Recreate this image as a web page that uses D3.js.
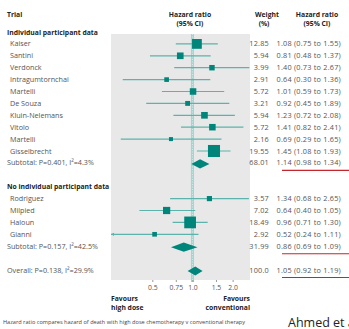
<!DOCTYPE html>
<html><head><meta charset="utf-8">
<script src="https://cdn.jsdelivr.net/npm/d3@7"></script>
<style>
html,body{margin:0;padding:0;background:#fff;overflow:hidden}
svg{display:block}
text{font-family:"Open Sans",sans-serif}
</style></head>
<body>
<svg id="c" width="349" height="329"></svg>
<script>
// ---- data ----
const group1Trials = ["Kaiser","Santini","Verdonck","Intragumtornchai","Martelli","De Souza","Kluin-Nelemans","Vitolo","Martelli","Gisselbrecht"];
const group1Weight = [12.85,5.94,3.99,2.91,5.72,3.21,5.94,5.72,2.16,19.55];
const group1HR     = [1.08,0.81,1.40,0.64,1.01,0.92,1.23,1.41,0.69,1.45];
const group1Lo     = [0.75,0.48,0.73,0.30,0.59,0.45,0.72,0.82,0.29,1.08];
const group1Hi     = [1.55,1.37,2.67,1.36,1.73,1.89,2.08,2.41,1.65,1.93];
const group2Trials = ["Rodriguez","Milpied","Haloun","Gianni"];
const group2Weight = [3.57,7.02,18.49,2.92];
const group2HR     = [1.34,0.64,0.96,0.52];
const group2Lo     = [0.68,0.40,0.71,0.24];
const group2Hi     = [2.65,1.05,1.30,1.11];
const subtotalLabels = ["Subtotal: P=0.401, I\u00b2=4.3%","Subtotal: P=0.157, I\u00b2=42.5%","Overall: P=0.138, I\u00b2=29.9%"];
const subtotalWeight = ["68.01","31.99","100.0"];
const subtotalHR     = [1.14,0.86,1.05];
const subtotalLo     = [0.98,0.69,0.92];
const subtotalHi     = [1.34,1.09,1.19];
const groupHeaders = ["Individual participant data","No individual participant data"];
const tickValues = [0.5,0.75,1.0,1.5,2.0];
const tickLabels = ["0.5","0.75","1.0","1.5","2.0"];

// ---- build rows ----
const rows = [];
rows.push({type:"header", label:groupHeaders[0]});
group1Trials.forEach((t,i)=>rows.push({type:"trial",label:t,w:group1Weight[i],hr:group1HR[i],lo:group1Lo[i],hi:group1Hi[i]}));
rows.push({type:"sub",label:subtotalLabels[0],wt:subtotalWeight[0],hr:subtotalHR[0],lo:subtotalLo[0],hi:subtotalHi[0]});
rows.push({type:"blank"});
rows.push({type:"header", label:groupHeaders[1]});
group2Trials.forEach((t,i)=>rows.push({type:"trial",label:t,w:group2Weight[i],hr:group2HR[i],lo:group2Lo[i],hi:group2Hi[i]}));
rows.push({type:"sub",label:subtotalLabels[1],wt:subtotalWeight[1],hr:subtotalHR[1],lo:subtotalLo[1],hi:subtotalHi[1]});
rows.push({type:"blank"});
rows.push({type:"sub",label:subtotalLabels[2],wt:subtotalWeight[2],hr:subtotalHR[2],lo:subtotalLo[2],hi:subtotalHi[2]});

const svg = d3.select("#c");
const panelL = 111, panelR = 250, panelT = 34, panelB = 280;
const x = d3.scaleLog().domain([0.245,2.7]).range([panelL,panelR]);
const y = d3.scaleLinear().domain([0,20]).range([32,270]);
const size = d3.scaleSqrt().domain([0,20]).range([0,12.2]);

const teal = "#00857b", lineTeal = "#5cb3ab", txt = "#555", dark = "#222";
const fs = 7.2, numFs = 7.3, numLs = 0.22;
const wX = 269, hrX = 276.5;
const fmt = v => v.toFixed(2);
const ciText = r => `${fmt(r.hr)} (${fmt(r.lo)} to ${fmt(r.hi)})`;

// panel
svg.append("rect").attr("x",panelL).attr("y",panelT).attr("width",panelR-panelL).attr("height",panelB-panelT).attr("fill","#e8e8e8");
// reference line
svg.append("line").attr("x1",x(1)).attr("x2",x(1)).attr("y1",panelT).attr("y2",panelB+2)
  .attr("stroke","#a3d4cf").attr("stroke-width",3);
svg.append("line").attr("x1",x(1)).attr("x2",x(1)).attr("y1",panelT).attr("y2",panelB)
  .attr("stroke","#d6ecea").attr("stroke-width",1).attr("stroke-dasharray","1,1.5");

// axis
const axis = d3.axisBottom(x).tickValues(tickValues).tickFormat((d,i)=>tickLabels[i]).tickSize(2).tickPadding(3);
const ag = svg.append("g").attr("transform",`translate(0,${panelB})`).call(axis);
ag.select(".domain").remove();
ag.selectAll(".tick line").attr("stroke","#999");
ag.selectAll("text").attr("font-family","Open Sans").attr("font-size",6.8).attr("fill",txt);

// headers
const head = (t,xx,yy,anchor)=>svg.append("text").attr("x",xx).attr("y",yy).attr("text-anchor",anchor||"start")
  .attr("font-size",6.8).attr("font-weight","bold").attr("fill",dark).text(t);
head("Trial",7,17);
head("Hazard ratio",190,17,"middle"); head("(95% CI)",190,26,"middle");
head("Weight",267,17,"middle"); head("(%)",264,26,"middle");
head("Hazard ratio",317,17,"middle"); head("(95% CI)",317,26,"middle");

const numText = (t,xx,yy,anchor)=>svg.append("text").attr("x",xx).attr("y",yy).attr("text-anchor",anchor||"start")
  .attr("font-size",numFs).attr("letter-spacing",numLs).attr("fill",txt).text(t);

rows.forEach((r,i)=>{
  const yy = y(i);
  if(r.type==="header"){
    svg.append("text").attr("x",7).attr("y",yy+2.5).attr("font-size",6.8).attr("font-weight","bold").attr("fill",dark).text(r.label);
  } else if(r.type==="trial"){
    svg.append("text").attr("x",10).attr("y",yy+2.5).attr("font-size",fs).attr("fill",txt).text(r.label);
    const lo = Math.max(r.lo, x.domain()[0]);
    svg.append("line").attr("x1",x(lo)).attr("x2",x(Math.min(r.hi,x.domain()[1]))).attr("y1",yy).attr("y2",yy)
      .attr("stroke",lineTeal).attr("stroke-width",1.2);
    if(r.lo < x.domain()[0]){
      const ax = x(lo);
      svg.append("path").attr("d",`M${ax},${yy} l3,-1.6 l0,3.2 z`).attr("fill",lineTeal);
    }
    const s = size(r.w);
    svg.append("rect").attr("x",x(r.hr)-s/2).attr("y",yy-s/2).attr("width",s).attr("height",s).attr("fill",teal);
    numText(r.w.toFixed(2),wX,yy+2.5,"end");
    numText(ciText(r),hrX,yy+2.5);
  } else if(r.type==="sub"){
    svg.append("text").attr("x",7).attr("y",yy+2.5).attr("font-size",fs).attr("fill",txt).text(r.label);
    const h = 4.6;
    svg.append("path").attr("d",`M${x(r.lo)},${yy+1} L${x(r.hr)},${yy+1-h} L${x(r.hi)},${yy+1} L${x(r.hr)},${yy+1+h} Z`).attr("fill",teal);
    numText(r.wt,wX,yy+2.5,"end");
    numText(ciText(r),hrX,yy+2.5);
    svg.append("line").attr("x1",282).attr("x2",349).attr("y1",yy+7.5).attr("y2",yy+7.5).attr("stroke","#c1272d").attr("stroke-width",1.1);
  }
});

// favours
const fav = (t,xx,yy,anchor)=>svg.append("text").attr("x",xx).attr("y",yy).attr("text-anchor",anchor).attr("font-size",6.8).attr("font-weight","bold").attr("fill",dark).text(t);
fav("Favours",panelL,301,"start"); fav("high dose",panelL,310,"start");
fav("Favours",panelR,301,"end"); fav("conventional",panelR,310,"end");

// footnote
svg.append("text").attr("x",3).attr("y",324).attr("font-size",5.6).attr("fill","#444")
  .text("Hazard ratio compares hazard of death with high dose chemotherapy v conventional therapy");
// annotation
svg.append("text").attr("x",288).attr("y",327).attr("font-family","Liberation Sans, Arial, sans-serif").attr("font-size",12.5).attr("fill","#222").text("Ahmed et al.");
</script>
</body></html>
